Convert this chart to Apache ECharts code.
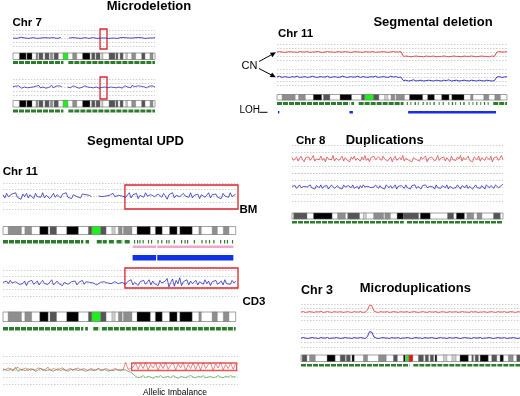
<!DOCTYPE html>
<html><head><meta charset="utf-8">
<script src="https://cdn.jsdelivr.net/npm/echarts@6/dist/echarts.min.js"></script>
<style>html,body{margin:0;padding:0;background:#fff}#c{width:520px;height:396px}</style>
</head><body><div id="c"></div>
<script>
// ---------- ideogram bands [start%, end%, stain] ----------
const chr7Bands = [[4.5,9.2,'gpos100'],[9.8,13.4,'gpos100'],[16.2,17.6,'gpos50'],[18.3,21.1,'gpos75'],[22.5,25.4,'gpos75'],[26.3,28,'gpos50'],[28.9,31.9,'gpos75'],[35.2,38.7,'acen'],[42,44.9,'gpos50'],[49,54.2,'gpos100'],[55.4,57.7,'gpos75'],[58.5,61.3,'gpos75'],[62.5,63.3,'gpos25'],[67.6,71.8,'gpos75'],[72.5,73.9,'gpos75'],[75.4,77.5,'gpos75'],[79.4,80.6,'gpos25'],[83.6,86.4,'gpos50'],[90.6,93,'gpos75'],[96.5,98.6,'gpos50']];
const chr11Bands = [[2.2,7.9,'gpos50'],[9.4,12.3,'gpos50'],[15.8,19.4,'gpos100'],[20.2,23,'gpos75'],[27.4,32.4,'gpos100'],[36.7,38.2,'gpos75'],[38.2,42,'acen'],[42,44.3,'gpos75'],[46.8,48.2,'gpos25'],[49.6,51.2,'gpos50'],[51.8,55.4,'gpos50'],[57.6,63.3,'gpos100'],[65.5,68.4,'gpos100'],[71.6,74.8,'gpos100'],[76,81.3,'gpos100'],[84.2,85.2,'gpos50'],[89.9,92.1,'gpos50'],[94.7,97.1,'gpos50']];
const chr8Bands = [[0.8,7.1,'gpos75'],[10.2,19,'gpos100'],[21.6,25.3,'gpos50'],[26.4,32,'gpos75'],[33.8,35.2,'gpos25'],[38.7,43.4,'gpos50'],[44,46.6,'gpos50'],[49.8,52.9,'gpos100'],[52.9,60,'gpos75'],[60.8,65.5,'gpos100'],[73.7,76.6,'gpos75'],[77.9,81.7,'gpos100'],[82.9,86.1,'gpos50'],[87.7,90,'gpos50'],[95.5,98.7,'gpos75']];
const chr3Bands = [[0.5,2.7,'gpos75'],[3.9,6.5,'gpos50'],[11.9,15.6,'gpos100'],[17.9,20.2,'gpos75'],[20.7,22.5,'gpos75'],[23.3,24.3,'gpos100'],[28.5,30.4,'gpos50'],[35.4,38.9,'gpos50'],[42.2,44,'gpos75'],[46.8,47.6,'gpos100'],[48,49.3,'acen'],[49.3,51.1,'cenq'],[53.6,55.9,'gpos75'],[56.7,58.2,'gpos75'],[59,60.5,'gpos75'],[61.2,62,'gpos100'],[65,66.6,'gpos25'],[68.9,70.8,'gpos25'],[72.6,76.4,'gpos100'],[78,78.7,'gpos75'],[79.5,81,'gpos75'],[81.8,85.5,'gpos100'],[87.1,89.4,'gpos75'],[90.9,92.4,'gpos100'],[94.7,96.9,'gpos50'],[98.5,100,'gpos75']];

// ---------- SNP coverage [start%, end%] ----------
const chr7Snp = [[0,35.5],[39,100]];
const segDelSnp = [[0,31.5],[32.3,33.5],[35.5,55],[56.4,56.9],[58,58.4],[59.8,60.4],[61.2,61.6],[63.3,63.8],[65,65.5],[66.4,66.8],[68,68.6],[70.3,70.7],[72,72.5],[74.5,74.9],[76,76.6],[77.5,77.9],[79.6,80],[81,81.6],[83.3,83.7],[85,85.4],[86.6,87.1],[88.4,88.8],[90,90.5],[91.6,92],[94,100]];
const updBmSnp = [[0,34.5],[35.5,37],[40.3,44.6],[45.5,48],[48.8,51.5],[52.3,54.7],[56.3,56.8],[57.6,58.1],[58.6,59.1],[60,60.5],[62.3,62.8],[63.6,64.1],[66.4,66.9],[68,68.5],[70.1,70.6],[71.1,71.6],[73.4,73.9],[76.5,77],[78,78.5],[79.1,79.6],[82,82.5],[85.3,85.8],[87,87.5],[88.5,89],[90.4,90.9],[93.3,93.8],[95,95.5],[96.2,96.7],[98.4,98.9]];
const updCd3Snp = [[0,34.5],[35.3,36.5],[38.8,41.5],[42.5,100]];
const chr8Snp = [[0,53],[54.5,100]];
const chr3Snp = [[0,49.5],[51.3,100]];

// ---------- regions [start%, end%] ----------
const chr7DelBox = [[61.3,66.2]];
const segDelLoh = [[0.4,1],[31.5,33],[57,95.2]];
const updBox = [[52.4,101]];
const updLohPink = [[55.7,65.8],[66.3,99]];
const updLohBlue = [[55.7,65.8],[66.3,99]];
const aiBox = [[55.3,100.4]];

// ---------- signal traces (copy number x10) ----------
const chr7CnA = [20,21,19,20,22,19,20,21,19,20,21,20,19,21,20,19,21,20,20,18,21,20,19,20,21,null,null,null,20,19,21,20,20,21,19,20,21,20,19,20,21,20,19,21,20,15,20,21,19,21,20,21,19,20,21,20,21,19,20,21,20,19,21,20,21,20,19,21,20,21,20,21];
const chr7CnB = [21,18,22,20,23,19,17,22,20,24,18,21,19,23,20,17,22,19,24,18,21,20,23,17,22,19,21,24,18,20,22,19,23,18,21,null,null,null,20,22,18,21,23,19,20,24,17,22,19,21,23,18,20,22,19,24,18,21,20,23,17,22,19,21,20,23,18,22,20,24,19,21,18,23,20,22,17,21,23,19,20,22,18,24,19,21,20,23,18,22,19,21,24,18,20,22,19,23,21,20];
const chr11Smooth = [20,21,20,19,20,21,20,20,19,21,20,20,21,19,20,20,21,20,19,20,21,20,20,19,21,20,20,21,20,19,20,21,20,20,19,21,20,20,21,19,20,20,21,20,19,20,21,20,20,21,9,10,9,8,9,10,9,9,8,10,9,9,10,8,9,9,10,9,8,9,10,9,9,8,10,9,9,10,9,8,9,10,9,9,8,10,9,20,21,20,20,21];
const chr11Raw = [20,22,19,21,20,19,21,20,22,19,20,21,19,20,22,20,19,21,20,20,22,19,20,21,19,20,22,20,19,21,20,20,22,19,21,20,19,21,20,22,19,20,21,20,19,22,20,21,19,20,11,12,10,11,13,10,11,12,10,11,12,11,10,12,11,10,12,11,13,10,11,12,10,11,12,11,10,12,11,10,12,11,10,12,11,10,11,20,21,19,20,21];
const updBm = [22,17,24,19,16,23,20,25,18,21,15,23,19,24,17,22,20,16,24,19,22,18,25,17,21,23,16,20,24,18,22,19,17,23,21,25,18,20,16,22,24,19,21,17,23,20,22,20,21,19,null,null,null,20,21,19,22,20,18,21,20,24,19,20,21,19,20,23,18,21,25,17,22,19,24,16,21,23,18,25,20,17,22,24,19,16,23,21,18,24,20,15,22,19,25,17,21,23,19,16,24,20,22,18,25,17,21,19,23,16,22,24,18,20,25,17,22,19,23,18,21,16,24,20,22,18,25,19,21,23];
const updCd3 = [21,18,23,19,24,20,17,22,25,18,21,19,23,16,22,20,24,18,21,23,17,20,24,19,22,18,21,25,17,20,23,19,22,16,21,24,18,20,22,19,23,17,21,20,24,18,22,20,21,19,20,18,17,19,21,20,22,19,20,21,19,20,22,21,19,20,21,24,18,22,19,25,17,21,23,16,22,20,24,18,21,25,17,23,19,22,16,24,20,18,23,27,14,21,26,15,24,19,28,16,22,20,25,17,23,19,21,24,17,22,20,18,25,19,23,16,22,21,24,18,20,23,17,25,19,22,18,24,20,23];
const aiAlleleA = [22,20,23,21,19,22,24,20,21,23,19,22,21,20,23,22,20,21,24,19,22,21,20,22,23,19,21,22,20,21,23,20,22,21,19,22,21,20,22,21,20,22,21,19,21,22,20,21,20,31,21,22,24,30,21,29,22,31,20,28,23,30,19,29,22,31,21,27,30,20,29,23,31,19,28,22,30,21,29,20,31,22,28,30,19,29,23,31,20,28,22,30,21,29];
const aiAlleleB = [20,21,19,22,20,24,18,21,20,19,22,20,21,18,20,22,21,19,20,21,18,20,22,19,21,20,18,21,20,22,19,21,20,18,20,21,19,20,22,19,20,21,18,20,19,21,20,19,21,20,18,17,14,11,9,10,12,9,11,10,8,11,10,12,9,10,11,9,12,10,8,11,10,9,11,12,10,9,11,10,12,9,10,11,9,10,12,10,9,11,10,12,10,11];
const chr8Smooth = [22,18,20,23,17,21,24,19,16,22,20,23,18,21,25,17,20,22,19,24,18,21,16,23,20,22,19,25,17,21,23,18,20,24,17,22,19,21,16,23,20,24,18,21,22,17,23,19,25,18,21,16,22,20,24,19,17,23,21,18,24,20,22,17,19,23,16,21,24,18,20,22,19,25,17,21,23,18,20,16,22,24,19,21,17,23,20,18,24,16,21,19,23,22,17,20,25,18,21,19,23,17,22,20,16,24,19,21,18,23,20,25,17,22,19,21,24,18,20,16,23,21,19,24,17,22,20,18,23,21,19,24,16,22,20,23,18,21,25,19];
const chr8Raw = [21,19,22,18,20,23,19,17,21,22,20,18,23,19,21,17,22,20,19,23,18,21,20,22,17,19,23,21,18,20,22,19,21,17,23,20,18,22,21,19,23,18,20,21,17,22,19,23,20,18,21,22,19,17,20,23,21,18,22,19,20,17,23,21,19,22,18,20,23,17,21,19,22,20,18,23,19,21,17,22,20,23,18,21,19,17,22,20,23,19,18,21,22,20,17,23,19,21,18,22,20,19,23,17,21,22,18,20,19,23,21,17,22,20,19,23,18,21,22,17,20,23,19,21,18,22,20,17,23,21,19,22,20,18,23,21,19,20,22,24];
const chr3Smooth = [20,21,19,20,21,20,19,21,20,22,19,20,21,20,19,21,20,20,21,19,20,21,20,19,21,20,20,21,19,20,24,37,36,22,20,19,21,20,20,21,19,20,21,20,19,21,20,20,21,19,20,21,20,19,20,21,20,19,21,20,20,21,19,20,21,20,19,21,20,20,21,19,20,21,20,20,19,21,20,21,19,20,20,21,19,20,21,20,19,21,20,20,21,19,20,21,20,19,21,20];
const chr3Raw = [20,21,20,19,20,21,20,20,19,21,20,20,21,19,20,20,21,20,19,20,21,20,20,19,21,20,20,21,20,19,23,34,33,22,20,19,20,21,20,20,19,21,20,20,21,19,20,20,21,20,19,20,21,20,20,19,21,20,20,21,20,19,20,21,20,20,19,21,20,20,21,20,19,20,21,20,20,19,21,20,20,21,19,20,20,21,20,19,20,21,20,20,21,19,20,20,21,20,19,20];

// ---------- build ----------
const stainColor = {gpos100:'#000000', gpos75:'#555555', gpos50:'#8e8e8e', gpos25:'#cdcdcd', acen:'#1ef01e', cenq:'#e8141a'};
const RED = '#e24a4a', BLUE = '#2222bd', GREEN = '#2b7d2b';
const FONT = 'Liberation Sans, Arial, Helvetica, sans-serif';
const PA = {left:13, width:142, xMax:100};
const PB = {left:277, width:230, xMax:100};
const PC = {left:3, width:235, xMax:101};
const PD = {left:292, width:211, xMax:100};
const PE = {left:301, width:219, xMax:100};

const grids = [], xAxes = [], yAxes = [], series = [];
function addGrid(p, top, height, trace) {
  const i = grids.length;
  grids.push({left:p.left, top:top, width:p.width, height:height});
  xAxes.push({type:'value', gridIndex:i, min:0, max:p.xMax, show:false});
  if (trace) {
    yAxes.push({type:'value', gridIndex:i, min:0, max:40, interval:10,
      axisLine:{show:false}, axisTick:{show:false}, axisLabel:{show:false},
      splitLine:{show:true, lineStyle:{color:'#c4c4c4', width:0.8, type:[1.5,1.5]}}});
  } else {
    yAxes.push({type:'value', gridIndex:i, min:0, max:1, show:false});
  }
  return i;
}
function spans(gi, data, kind, color) {
  series.push({
    type:'custom', xAxisIndex:gi, yAxisIndex:gi, silent:true, animation:false,
    data: data.map(d => [d[0], d[1]]),
    renderItem: function (params, api) {
      const cs = params.coordSys;
      const a = api.coord([api.value(0), 0])[0];
      const b = api.coord([api.value(1), 0])[0];
      const d = data[params.dataIndex];
      const shape = {x:a, y:cs.y, width:b - a, height:cs.height};
      if (kind === 'snp') {
        const ym = cs.y + cs.height / 2;
        return {type:'line', shape:{x1:a, y1:ym, x2:b, y2:ym}, style:{stroke:color, lineWidth:cs.height, lineDash:[5,1]}};
      }
      if (kind === 'box') return {type:'rect', shape:shape, style:{fill:'none', stroke:color, lineWidth:1.3}};
      if (kind === 'outline') return {type:'rect', shape:shape, style:{fill:'#fff', stroke:'#8a8a8a', lineWidth:0.8}};
      if (kind === 'band') return {type:'rect', shape:shape, style:{fill:stainColor[d[2]], stroke:'#777', lineWidth:0.4}};
      return {type:'rect', shape:shape, style:{fill:color}};
    }
  });
}
function trace(gi, vals, color, w) {
  const n = vals.length;
  series.push({type:'line', xAxisIndex:gi, yAxisIndex:gi, symbol:'none', silent:true, animation:false,
    connectNulls:false, lineStyle:{color:color, width:w},
    data: vals.map((v, i) => [i / (n - 1) * 100, v === null ? '-' : v])});
}
function ideogram(p, top, h, bands) {
  const gi = addGrid(p, top, h, false);
  spans(gi, [[0,100]], 'outline');
  spans(gi, bands, 'band');
}
function track(p, top, h, data, kind, color) { spans(addGrid(p, top, h, false), data, kind, color); }

// Panel A: Chr 7 microdeletion
trace(addGrid(PA, 30, 16, true), chr7CnA, BLUE, 0.8);
track(PA, 29, 20, chr7DelBox, 'box', '#d9262c');
ideogram(PA, 53, 6.5, chr7Bands);
track(PA, 61, 3, chr7Snp, 'snp', GREEN);
trace(addGrid(PA, 79, 16, true), chr7CnB, BLUE, 0.75);
track(PA, 77, 22, chr7DelBox, 'box', '#d9262c');
ideogram(PA, 100.5, 6.5, chr7Bands);
track(PA, 109.5, 3, chr7Snp, 'snp', GREEN);

// Panel B: Chr 11 segmental deletion
trace(addGrid(PB, 44, 16, true), chr11Smooth, RED, 1);
trace(addGrid(PB, 69, 16, true), chr11Raw, BLUE, 0.9);
ideogram(PB, 94.5, 5.5, chr11Bands);
track(PB, 102, 3, segDelSnp, 'snp', GREEN);
track(PB, 111, 2.5, segDelLoh, 'bar', '#1a2ee6');

// Panel C: Chr 11 segmental UPD
trace(addGrid(PC, 183, 26, true), updBm, BLUE, 0.75);
track(PC, 185, 24, updBox, 'box', '#d9262c');
ideogram(PC, 226.5, 8, chr11Bands);
track(PC, 240, 3.5, updBmSnp, 'snp', GREEN);
track(PC, 245.5, 2.5, updLohPink, 'bar', '#f2a6cf');
track(PC, 255, 5.5, updLohBlue, 'bar', '#1030e6');
trace(addGrid(PC, 270, 26, true), updCd3, BLUE, 0.75);
track(PC, 268, 20, updBox, 'box', '#d9262c');
ideogram(PC, 312, 9.5, chr11Bands);
track(PC, 327, 3.5, updCd3Snp, 'snp', GREEN);
const aiGrid = addGrid(PC, 356, 28, true);
trace(aiGrid, aiAlleleB, '#3c9a3c', 0.65);
trace(aiGrid, aiAlleleA, RED, 0.65);
track(PC, 363, 7.5, aiBox, 'box', '#e65454');

// Panel D: Chr 8 duplications
trace(addGrid(PD, 145, 28, true), chr8Smooth, RED, 0.8);
trace(addGrid(PD, 173, 28, true), chr8Raw, BLUE, 0.75);
ideogram(PD, 213, 6, chr8Bands);
track(PD, 221, 2.5, chr8Snp, 'snp', GREEN);

// Panel E: Chr 3 microduplications
trace(addGrid(PE, 304, 16, true), chr3Smooth, RED, 0.9);
trace(addGrid(PE, 329, 18, true), chr3Raw, BLUE, 0.9);
ideogram(PE, 355, 6.5, chr3Bands);
track(PE, 364, 2.5, chr3Snp, 'snp', GREEN);

// ---------- annotations ----------
function txt(t, x, y, size, weight, align) {
  return {type:'text', x:x, y:y, silent:true, style:{text:t, fontSize:size, fontWeight:weight, fontFamily:FONT, fill:'#000', textAlign:align, textVerticalAlign:'middle'}};
}
function arrow(x1, y1, x2, y2) {
  const ang = Math.atan2(y2 - y1, x2 - x1), L = 5.5, W = 2.6;
  const bx = x2 - L * Math.cos(ang), by = y2 - L * Math.sin(ang);
  const px = -Math.sin(ang) * W, py = Math.cos(ang) * W;
  return [
    {type:'line', silent:true, shape:{x1:x1, y1:y1, x2:bx, y2:by}, style:{stroke:'#000', lineWidth:1}},
    {type:'polygon', silent:true, shape:{points:[[x2, y2], [bx + px, by + py], [bx - px, by - py]]}, style:{fill:'#000'}}
  ];
}
const graphics = [
  txt('Microdeletion', 149, 6, 13, 'bold', 'center'),
  txt('Chr 7', 12.5, 22.5, 11.5, 'bold', 'left'),
  txt('Segmental deletion', 433, 22, 13, 'bold', 'center'),
  txt('Chr 11', 278, 34, 11.5, 'bold', 'left'),
  txt('CN', 241.5, 65.5, 11, 'normal', 'left'),
  txt('LOH', 239.5, 110, 10, 'normal', 'left'),
  {type:'line', silent:true, shape:{x1:259.5, y1:112.3, x2:267.5, y2:112.3}, style:{stroke:'#000', lineWidth:1}},
  txt('Segmental UPD', 135.5, 141.3, 13, 'bold', 'center'),
  txt('Chr 11', 2.7, 172, 11.5, 'bold', 'left'),
  txt('BM', 239.5, 210, 11.5, 'bold', 'left'),
  txt('CD3', 242.5, 301.7, 11.5, 'bold', 'left'),
  txt('Allelic Imbalance', 175, 392.5, 8.5, 'normal', 'center'),
  txt('Chr 8', 296, 141, 11.5, 'bold', 'left'),
  txt('Duplications', 384.7, 140.5, 13, 'bold', 'center'),
  txt('Chr 3', 301, 291, 12.5, 'bold', 'left'),
  txt('Microduplications', 415.3, 288.5, 13, 'bold', 'center')
].concat(arrow(259, 61.5, 276, 52.3), arrow(259, 68.5, 275.8, 77.3));

const chart = echarts.init(document.getElementById('c'));
chart.setOption({
  animation:false,
  backgroundColor:'#fff',
  grid:grids, xAxis:xAxes, yAxis:yAxes, series:series,
  graphic:{elements:graphics}
});
</script>
</body></html>
